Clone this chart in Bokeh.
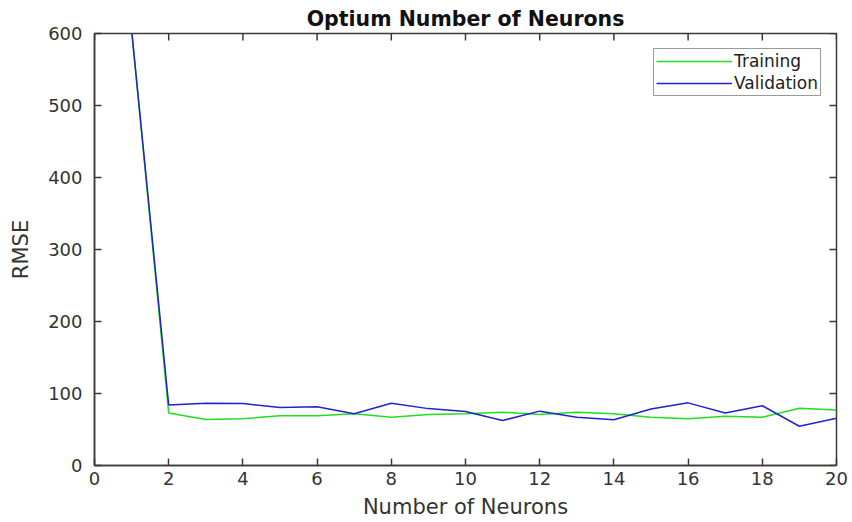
import math
from bokeh.plotting import figure
from bokeh.models import Range1d, FixedTicker, Legend, LegendItem
from bokeh.embed import file_html
from bokeh.resources import INLINE

neurons = list(range(1, 21))
training = [605, 73, 64, 65, 69, 69, 72, 67, 71, 72, 74, 71, 74, 72, 67, 65, 68.5, 67, 79.5, 77]
validation = [605, 84, 86.5, 86, 80.5, 81.5, 72, 86.5, 79, 75, 62.5, 75.5, 67, 63.5, 78.5, 87, 73, 83, 54.5, 65.5]
x_ticks = list(range(0, 21, 2))
y_ticks = list(range(0, 601, 100))
x_min, x_max = 0, 20
y_min, y_max = 0, 600

FONT = "DejaVu Sans"
AX = "#3a3a3a"

p = figure(width=852, height=522, output_backend="svg", toolbar_location=None,
           x_range=Range1d(x_min, x_max), y_range=Range1d(y_min, y_max),
           min_border_left=94, min_border_right=16, min_border_top=33, min_border_bottom=57)
p.frame_width = 742
p.frame_height = 432

p.title.text = "Optium Number of Neurons"
p.title.align = "center"
p.title.text_font = FONT
p.title.text_font_size = "20.5px"
p.title.text_font_style = "bold"
p.title.text_color = "#111111"
p.title.standoff = 6

p.grid.visible = False
p.outline_line_color = AX
p.outline_line_width = 1.5
p.background_fill_color = "white"
p.border_fill_color = "white"

for ax in (p.xaxis[0], p.yaxis[0]):
    ax.major_tick_in = 7
    ax.major_tick_out = 0
    ax.minor_tick_in = 0
    ax.minor_tick_out = 0
    ax.axis_line_color = AX
    ax.axis_line_width = 1.5
    ax.major_tick_line_color = AX
    ax.major_tick_line_width = 1.5
    ax.major_label_text_font = FONT
    ax.major_label_text_font_size = "18px"
    ax.major_label_text_color = "#333333"
    ax.axis_label_text_font = FONT
    ax.axis_label_text_font_size = "21px"
    ax.axis_label_text_font_style = "normal"
    ax.axis_label_text_color = "#333333"

p.xaxis[0].ticker = FixedTicker(ticks=x_ticks)
p.yaxis[0].ticker = FixedTicker(ticks=y_ticks)
p.xaxis[0].axis_label = "Number of Neurons"
p.yaxis[0].axis_label = "RMSE"
p.xaxis[0].major_label_standoff = 6
p.yaxis[0].major_label_standoff = 12
p.xaxis[0].axis_label_standoff = 7
p.yaxis[0].axis_label_standoff = 12

# inward ticks on the top and right edges of the box (half of each dash is clipped by the frame)
p.scatter([t for t in x_ticks], [y_max] * len(x_ticks), marker="dash", size=14,
          angle=math.pi / 2, line_color=AX, line_width=1.5)
p.scatter([x_max] * len(y_ticks), [t for t in y_ticks], marker="dash", size=14,
          line_color=AX, line_width=1.5)

r1 = p.line(neurons, training, line_color="#22dd22", line_width=1.5)
r2 = p.line(neurons, validation, line_color="#2222cc", line_width=1.5)

legend = Legend(items=[LegendItem(label="Training", renderers=[r1]),
                       LegendItem(label="Validation", renderers=[r2])],
                location="top_right")
legend.label_text_font = FONT
legend.label_text_font_size = "17px"
legend.label_text_color = "#222222"
legend.border_line_color = "#333333"
legend.border_line_width = 1.2
legend.glyph_width = 76
legend.glyph_height = 16
legend.label_standoff = 2
legend.padding = 2
legend.spacing = 2
legend.margin = 15
legend.label_height = 16
p.add_layout(legend)

open("out.html", "w").write(file_html(p, INLINE))
